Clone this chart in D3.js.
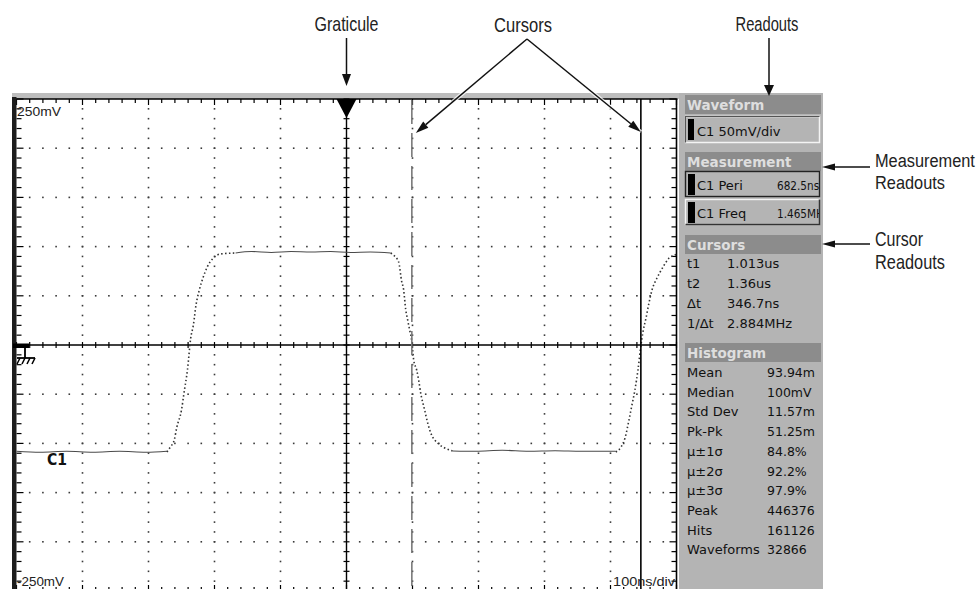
<!DOCTYPE html>
<html><head><meta charset="utf-8">
<script src="https://cdn.jsdelivr.net/npm/d3@7/dist/d3.min.js"></script>
<style>body{margin:0;background:#fff} svg{display:block}</style>
</head><body><svg id="c" width="979" height="589"></svg>
<script>
// ---------------- DATA (time in ns, voltage in mV) ----------------
const screenTime = [414, 1414];          // 10 div x 100 ns/div
const screenVolt = [-250, 250];          // 10 div x 50 mV/div
const triggerTime = 914;
const cursorTimes = [1013, 1360];
const low1  = [[414,-108],[450,-109],[490,-108],[530,-109],[570,-108],[610,-109],[642,-108]];
const rise1 = [[642,-108.7],[647,-103.7],[653,-96.5],[657,-83.3],[664,-66.1],[668,-47.8],[673,-25.4],[678,7.1],[682,20.3],[686,40.7],[691,55.9],[697,69.1],[703,79.3],[711,87.4],[723,92.5],[746,93.5]];
const high1 = [[746,93.5],[770,95],[800,94],[830,95],[860,94.5],[890,95],[920,94],[950,94.5],[981,93.5]];
const fall1 = [[981,93.5],[985,91.5],[993,84.4],[997.5,65],[1000.6,55.9],[1003.6,36.6],[1006.7,25.4],[1009.7,15.2],[1012.7,5.1],[1015.8,-15.2],[1020.3,-25.4],[1023.3,-35.6],[1026.4,-48.8],[1032.4,-66.1],[1037,-79.3],[1043,-91.5],[1052,-99.6],[1063,-104.7],[1075,-107.7]];
const low2  = [[1075,-107.7],[1110,-108],[1150,-107],[1190,-108],[1230,-107.5],[1270,-108],[1300,-108],[1322,-108]];
const rise2 = [[1322,-108.7],[1330,-103.7],[1336,-94.5],[1342,-76.2],[1346.5,-61],[1351,-45.7],[1355.6,-25.4],[1360.2,0],[1363.2,13.2],[1367.8,27.4],[1372.3,42.7],[1376.9,55.9],[1384.5,68.1],[1393.6,79.3],[1402.7,88.4],[1411.8,91.5],[1414,92.5]];
const scaleLabels = ["250mV", "-250mV", "100ns/div"];
const channelLabel = "C1";
const waveformReadout = "C1 50mV/div";
const measurementReadouts = [["C1 Peri", "682.5ns"], ["C1 Freq", "1.465MHz"]];
const cursorReadouts = [["t1", "1.013us"], ["t2", "1.36us"], ["\u0394t", "346.7ns"], ["1/\u0394t", "2.884MHz"]];
const histogramReadouts = [["Mean","93.94m"],["Median","100mV"],["Std Dev","11.57m"],["Pk-Pk","51.25m"],["\u03bc\u00b11\u03c3","84.8%"],["\u03bc\u00b12\u03c3","92.2%"],["\u03bc\u00b13\u03c3","97.9%"],["Peak","446376"],["Hits","161126"],["Waveforms","32866"]];
const panelHeaders = ["Waveform", "Measurement", "Cursors", "Histogram"];
const annotations = ["Graticule", "Cursors", "Readouts", "Measurement", "Readouts", "Cursor", "Readouts"];

// ---------------- DRAWING ----------------
const W = 979, H = 589;
const svg = d3.select('#c');
const x = d3.scaleLinear().domain(screenTime).range([16.5, 676.5]);
const y = d3.scaleLinear().domain(screenVolt).range([591, 99]);
const tMinor = d3.range(screenTime[0], screenTime[1] + 0.01, 20);
const vMinor = d3.range(screenVolt[0], screenVolt[1] + 0.01, 10);
const tMajor = d3.range(screenTime[0], screenTime[1] + 0.01, 100);
const vMajor = d3.range(screenVolt[0], screenVolt[1] + 0.01, 50);

function scaledText(parent, str, tx, ty, sx, sy, anchor, font, size, weight, fill) {
  return parent.append('text').attr('x', 0).attr('y', 0).attr('text-anchor', anchor)
    .attr('font-family', font).attr('font-size', size).attr('font-weight', weight || 'normal')
    .attr('fill', fill).text(str).attr('transform', `translate(${tx},${ty}) scale(${sx},${sy})`);
}
// text fitted to a width by horizontal scaling
function fitted(parent, str, tx, ty, width, anchor, font, size, weight, fill, sy) {
  const t = scaledText(parent, str, 0, 0, 1, 1, anchor, font, size, weight, fill);
  const w = t.node().getComputedTextLength();
  t.attr('transform', `translate(${tx},${ty}) scale(${width / w},${sy || 1})`);
  return t;
}

svg.append('rect').attr('width', W).attr('height', H).attr('fill', '#fff');
svg.append('rect').attr('x', 12).attr('y', 93).attr('width', 668).attr('height', 6).attr('fill', '#bdbdbd');
svg.append('rect').attr('x', 679).attr('y', 93).attr('width', 144).attr('height', 496).attr('fill', '#b4b4b4');

const g = svg.append('g');
// dotted graticule
const dots = [];
tMajor.slice(1, -1).forEach(t => { if (t !== triggerTime) vMinor.slice(1, -1).forEach(v => { if (v !== 0) dots.push([t, v]); }); });
vMajor.slice(1, -1).forEach(v => { if (v !== 0) tMinor.slice(1, -1).forEach(t => { if (t !== triggerTime) dots.push([t, v]); }); });
g.selectAll('rect.dot').data(dots).join('rect').attr('class', 'dot')
  .attr('x', d => x(d[0]) - 0.8).attr('y', d => y(d[1]) - 0.8)
  .attr('width', 1.6).attr('height', 1.6).attr('fill', '#3a3a3a');

// center lines with ticks
g.append('line').attr('x1', x(screenTime[0])).attr('x2', x(screenTime[1])).attr('y1', y(0)).attr('y2', y(0)).attr('stroke', '#000').attr('stroke-width', 1.6);
g.append('line').attr('x1', x(triggerTime)).attr('x2', x(triggerTime)).attr('y1', y(250)).attr('y2', H).attr('stroke', '#000').attr('stroke-width', 1.4);
g.selectAll('line.ct').data(tMinor).join('line').attr('class', 'ct')
  .attr('x1', d => x(d)).attr('x2', d => x(d)).attr('y1', y(0) - 3).attr('y2', y(0) + 3).attr('stroke', '#000').attr('stroke-width', 1.2);
g.selectAll('line.cv').data(vMinor).join('line').attr('class', 'cv')
  .attr('y1', d => y(d)).attr('y2', d => y(d)).attr('x1', x(triggerTime) - 3).attr('x2', x(triggerTime) + 3).attr('stroke', '#000').attr('stroke-width', 1.2);

// edge ticks
const isMajT = t => Math.abs((t - screenTime[0]) % 100) < 0.01;
const isMajV = v => Math.abs(v % 50) < 0.01;
g.selectAll('line.tt').data(tMinor).join('line').attr('class', 'tt')
  .attr('x1', d => x(d)).attr('x2', d => x(d)).attr('y1', y(250)).attr('y2', d => y(250) + (isMajT(d) ? 6 : 4)).attr('stroke', '#000').attr('stroke-width', 1.2);
g.selectAll('line.bt').data(tMinor).join('line').attr('class', 'bt')
  .attr('x1', d => x(d)).attr('x2', d => x(d)).attr('y1', y(-250)).attr('y2', d => y(-250) - (isMajT(d) ? 6 : 4)).attr('stroke', '#000').attr('stroke-width', 1.2);
g.selectAll('line.lt').data(vMinor).join('line').attr('class', 'lt')
  .attr('y1', d => y(d)).attr('y2', d => y(d)).attr('x1', x(screenTime[0])).attr('x2', d => x(screenTime[0]) + (isMajV(d) ? 7 : 5)).attr('stroke', '#000').attr('stroke-width', 1.2);
g.selectAll('line.rt').data(vMinor).join('line').attr('class', 'rt')
  .attr('y1', d => y(d)).attr('y2', d => y(d)).attr('x1', x(screenTime[1])).attr('x2', d => x(screenTime[1]) - (isMajV(d) ? 7 : 5)).attr('stroke', '#000').attr('stroke-width', 1.2);

// frame
g.append('line').attr('x1', 12).attr('x2', x(screenTime[1]) + 1).attr('y1', y(250)).attr('y2', y(250)).attr('stroke', '#000').attr('stroke-width', 1.6);
g.append('line').attr('x1', x(screenTime[1])).attr('x2', x(screenTime[1])).attr('y1', y(250)).attr('y2', H).attr('stroke', '#000').attr('stroke-width', 1.6);
g.append('rect').attr('x', 12).attr('y', 97).attr('width', 4.5).attr('height', H - 97).attr('fill', '#1c1c1c');

// waveform
const wline = d3.line().x(d => x(d[0])).y(d => y(d[1])).curve(d3.curveMonotoneX);
[low1, high1, low2].forEach(seg => g.append('path').attr('d', wline(seg)).attr('fill', 'none').attr('stroke', '#4a4a4a').attr('stroke-width', 1.1));
[rise1, fall1, rise2].forEach(seg => g.append('path').attr('d', wline(seg)).attr('fill', 'none').attr('stroke', '#333').attr('stroke-width', 1.6).attr('stroke-dasharray', '1.5,2.4'));

// cursors
g.append('line').attr('x1', x(cursorTimes[0])).attr('x2', x(cursorTimes[0])).attr('y1', y(250) + 1).attr('y2', H)
  .attr('stroke', '#7a7a7a').attr('stroke-width', 1.6).attr('stroke-dasharray', '24,9');
g.append('line').attr('x1', x(cursorTimes[1])).attr('x2', x(cursorTimes[1])).attr('y1', y(250)).attr('y2', H)
  .attr('stroke', '#000').attr('stroke-width', 1.6);

// trigger marker
const cx = x(triggerTime);
g.append('path').attr('d', `M${cx - 10},${y(250)}L${cx + 10},${y(250)}L${cx},${y(250) + 19}Z`).attr('fill', '#000');

// ground marker
const gy = y(0);
g.append('rect').attr('x', 13).attr('y', gy - 1.5).attr('width', 16).attr('height', 4.5).attr('fill', '#000');
g.append('line').attr('x1', 25).attr('x2', 25).attr('y1', gy + 2).attr('y2', gy + 13).attr('stroke', '#000').attr('stroke-width', 1.8);
g.append('line').attr('x1', 17).attr('x2', 35).attr('y1', gy + 13).attr('y2', gy + 13).attr('stroke', '#000').attr('stroke-width', 1.8);
[20, 25, 30, 35].forEach(hx => g.append('line').attr('x1', hx).attr('x2', hx - 3).attr('y1', gy + 13).attr('y2', gy + 19).attr('stroke', '#000').attr('stroke-width', 1.5));

// scale labels
const lblFont = '"Liberation Sans", Arial, sans-serif';
fitted(g, scaleLabels[0], 17, 116, 44, 'start', lblFont, 12, 'normal', '#222');
fitted(g, scaleLabels[1], 17, 586, 47, 'start', lblFont, 12, 'normal', '#222');
fitted(g, scaleLabels[2], 675, 586, 62, 'end', lblFont, 12, 'normal', '#222');
fitted(g, channelLabel, 47, 465, 20, 'start', '"DejaVu Sans", sans-serif', 15, 'bold', '#111');

// ---------------- READOUT PANEL ----------------
const pf = '"DejaVu Sans", sans-serif';
const p = svg.append('g');
const headerY = [95, 152, 235, 343];
panelHeaders.forEach((h, i) => {
  p.append('rect').attr('x', 685).attr('y', headerY[i]).attr('width', 136).attr('height', 19).attr('fill', '#8c8c8c');
  p.append('text').attr('x', 687).attr('y', headerY[i] + 15).text(h).attr('font-family', pf).attr('font-weight', 'bold').attr('font-size', 13.5).attr('fill', '#dedede');
});
// waveform box
p.append('rect').attr('x', 685.5).attr('y', 116.5).attr('width', 134).attr('height', 26).attr('fill', '#b4b4b4').attr('stroke', '#f4f4f4').attr('stroke-width', 1.5);
p.append('path').attr('d', 'M685.5,142.5V116.5H819.5').attr('fill', 'none').attr('stroke', '#555').attr('stroke-width', 1.2);
p.append('rect').attr('x', 688).attr('y', 119).attr('width', 6).attr('height', 21).attr('fill', '#000');
p.append('text').attr('x', 697).attr('y', 136).text(waveformReadout).attr('font-family', pf).attr('font-size', 13).attr('fill', '#111');
// measurement boxes
const mY = [171, 199];
p.append('clipPath').attr('id', 'mclip').append('rect').attr('x', 685).attr('y', 160).attr('width', 134).attr('height', 70);
measurementReadouts.forEach((m, i) => {
  p.append('rect').attr('x', 685.5).attr('y', mY[i] + 0.5).attr('width', 134).attr('height', 25).attr('fill', '#b4b4b4').attr('stroke', i === 0 ? '#222' : '#f4f4f4').attr('stroke-width', 1.4);
  if (i === 1) p.append('path').attr('d', `M685.5,${mY[i] + 25.5}H819.5V${mY[i] + 0.5}`).attr('fill', 'none').attr('stroke', '#333').attr('stroke-width', 1.6);
  p.append('rect').attr('x', 688).attr('y', mY[i] + 3).attr('width', 7).attr('height', 21).attr('fill', '#000');
  p.append('text').attr('x', 697).attr('y', mY[i] + 19).text(m[0]).attr('font-family', pf).attr('font-size', 13).attr('fill', '#111');
  const vg = p.append('g').attr('clip-path', 'url(#mclip)');
  scaledText(vg, m[1], 777, mY[i] + 19, 0.84, 1.05, 'start', pf, 12.5, 'normal', '#111');
});
// cursor readouts
cursorReadouts.forEach((c, i) => {
  const by = 268 + i * 20;
  p.append('text').attr('x', 687).attr('y', by).text(c[0]).attr('font-family', pf).attr('font-size', 13).attr('fill', '#111');
  p.append('text').attr('x', 727).attr('y', by).text(c[1]).attr('font-family', pf).attr('font-size', 13).attr('fill', '#111');
});
// histogram readouts
histogramReadouts.forEach((c, i) => {
  const by = 377 + i * 19.7;
  p.append('text').attr('x', 687).attr('y', by).text(c[0]).attr('font-family', pf).attr('font-size', 13).attr('fill', '#111');
  p.append('text').attr('x', 767).attr('y', by).text(c[1]).attr('font-family', pf).attr('font-size', 12.5).attr('fill', '#111');
});

// ---------------- ANNOTATIONS ----------------
const af = '"Liberation Sans Narrow", "Liberation Sans", Arial, sans-serif';
const a = svg.append('g');
function arrow(x1, y1, x2, y2, len, hw) {
  const ang = Math.atan2(y2 - y1, x2 - x1);
  const bx = x2 - len * Math.cos(ang), by = y2 - len * Math.sin(ang);
  const nx = -Math.sin(ang) * hw, ny = Math.cos(ang) * hw;
  a.append('line').attr('x1', x1).attr('y1', y1).attr('x2', bx).attr('y2', by).attr('stroke', '#111').attr('stroke-width', 1.5);
  a.append('path').attr('d', `M${x2},${y2}L${bx + nx},${by + ny}L${bx - nx},${by - ny}Z`).attr('fill', '#111');
}
fitted(a, annotations[0], 346.5, 31, 64, 'middle', af, 17, 'normal', '#222', 1.18);
fitted(a, annotations[1], 523, 32, 58, 'middle', af, 17, 'normal', '#222', 1.18);
fitted(a, annotations[2], 767, 31, 63, 'middle', af, 17, 'normal', '#222', 1.18);
fitted(a, annotations[3], 875, 166.5, 100, 'start', af, 17, 'normal', '#222', 1.12);
fitted(a, annotations[4], 875, 188.5, 70, 'start', af, 17, 'normal', '#222', 1.12);
fitted(a, annotations[5], 875, 246, 48, 'start', af, 17, 'normal', '#222', 1.18);
fitted(a, annotations[6], 875, 268.5, 70, 'start', af, 17, 'normal', '#222', 1.18);
arrow(346.5, 38, 346.5, 86, 12, 4.5);
arrow(769, 38, 769, 96, 11, 5);
[[x(cursorTimes[0]) + 4, 133], [x(cursorTimes[1]), 132]].forEach(tip => {
  a.append('line').attr('x1', 527).attr('y1', 39).attr('x2', tip[0]).attr('y2', tip[1]).attr('stroke', '#fff').attr('stroke-width', 4).attr('opacity', 0.8);
});
arrow(527, 39, x(cursorTimes[0]) + 4, 133, 13, 4);
arrow(527, 39, x(cursorTimes[1]), 132, 13, 4);
arrow(870, 167, 822, 167, 13, 3.5);
arrow(870, 244, 822, 244, 13, 3.5);
</script></body></html>
